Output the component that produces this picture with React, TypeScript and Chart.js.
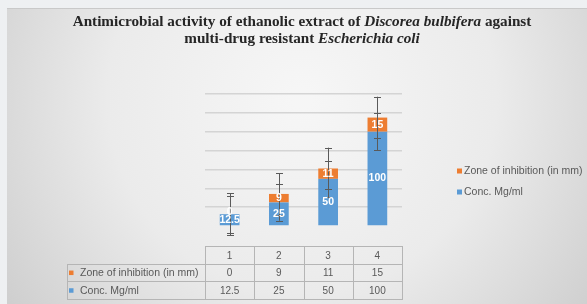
import React, { useEffect, useRef } from "react";
import { Chart, registerables } from "chart.js";

Chart.register(...registerables);

const categories = ["1", "2", "3", "4"];
const concValues = [12.5, 25, 50, 100];
const zoneValues = [0, 9, 11, 15];
const concErrors = [19.4, 19.4, 19.4, 19.4];
const zoneErrors = [22.1, 22.1, 22.1, 22.1];
const concLabel = "Conc. Mg/ml";
const zoneLabel = "Zone of inhibition (in mm)";
const yMax = 140;
const yStep = 20;
const titleLine1 = [
  { t: "Antimicrobial activity of ethanolic extract of ", i: false },
  { t: "Discorea bulbifera", i: true },
  { t: " against", i: false },
];
const titleLine2 = [
  { t: "multi-drug resistant ", i: false },
  { t: "Escherichia coli", i: true },
];

const BLUE = "#5b9bd5";
const ORANGE = "#ed7d31";
const TEXT = "#595959";
const SANS = "'Liberation Sans', Arial, sans-serif";

const overlay = {
  id: "overlay",
  beforeDraw(chart: any) {
    const { ctx, width, height } = chart;
    ctx.save();
    const g = ctx.createRadialGradient(295, 90, 10, 295, 90, 420);
    g.addColorStop(0, "#f6f6f6");
    g.addColorStop(0.45, "#ebebeb");
    g.addColorStop(1, "#c4c4c4");
    ctx.fillStyle = g;
    ctx.fillRect(0, 0, width, height);
    ctx.strokeStyle = "#c9c9c9";
    ctx.lineWidth = 1;
    ctx.beginPath();
    ctx.moveTo(0, 0.5);
    ctx.lineTo(width, 0.5);
    ctx.stroke();
    ctx.restore();
  },
  afterDatasetsDraw(chart: any) {
    const { ctx, chartArea } = chart;
    const yScale = chart.scales.y;
    const xScale = chart.scales.x;
    ctx.save();

    // error bars
    const errs = [concErrors, zoneErrors];
    const series = [concValues, zoneValues];
    ctx.strokeStyle = "#5a5a5a";
    ctx.lineWidth = 1;
    [0, 1].forEach((di) => {
      const meta = chart.getDatasetMeta(di);
      meta.data.forEach((el: any, j: number) => {
        let cum = 0;
        for (let k = 0; k <= di; k++) cum += series[k][j];
        const e = errs[di][j];
        const yTop = yScale.getPixelForValue(cum + e);
        const yBot = yScale.getPixelForValue(cum - e);
        const x = Math.round(el.x) + 0.5;
        ctx.beginPath();
        ctx.moveTo(x, yTop);
        ctx.lineTo(x, yBot);
        ctx.moveTo(x - 3.5, Math.round(yTop) + 0.5);
        ctx.lineTo(x + 3.5, Math.round(yTop) + 0.5);
        ctx.moveTo(x - 3.5, Math.round(yBot) + 0.5);
        ctx.lineTo(x + 3.5, Math.round(yBot) + 0.5);
        ctx.stroke();
      });
    });

    // data labels
    ctx.fillStyle = "#ffffff";
    ctx.font = `bold 10.5px ${SANS}`;
    ctx.textAlign = "center";
    ctx.textBaseline = "middle";
    [0, 1].forEach((di) => {
      const meta = chart.getDatasetMeta(di);
      meta.data.forEach((el: any, j: number) => {
        const yc = (el.y + el.base) / 2;
        ctx.fillText(String(series[di][j]), el.x, yc + (di === 1 && series[di][j] === 0 ? -2 : 0));
      });
    });

    // title
    ctx.fillStyle = "#262626";
    ctx.textBaseline = "alphabetic";
    ctx.textAlign = "left";
    const drawLine = (parts: any[], y: number) => {
      const fontFor = (i: boolean) => `${i ? "italic " : ""}bold 15.2px 'Liberation Serif', 'Times New Roman', serif`;
      let total = 0;
      parts.forEach((p) => {
        ctx.font = fontFor(p.i);
        total += ctx.measureText(p.t).width;
      });
      let x = 295 - total / 2;
      parts.forEach((p) => {
        ctx.font = fontFor(p.i);
        ctx.fillText(p.t, x, y);
        x += ctx.measureText(p.t).width;
      });
    };
    drawLine(titleLine1, 18);
    drawLine(titleLine2, 35);

    // legend
    ctx.font = `10.5px ${SANS}`;
    ctx.textBaseline = "middle";
    const legend = [
      { c: ORANGE, t: zoneLabel, y: 163 },
      { c: BLUE, t: concLabel, y: 184 },
    ];
    legend.forEach((l) => {
      ctx.fillStyle = l.c;
      ctx.fillRect(450, l.y - 2.5, 5, 5);
      ctx.fillStyle = TEXT;
      ctx.fillText(l.t, 457, l.y + 0.5);
    });

    // data table
    const catW = (xScale.right - xScale.left) / categories.length;
    const top = chartArea.bottom + 20;
    const rowH = 17.7;
    const labelLeft = 60;
    const left = xScale.left;
    const right = xScale.right;
    ctx.strokeStyle = "#b5b5b5";
    ctx.lineWidth = 1;
    ctx.beginPath();
    ctx.moveTo(left, top + 0.5);
    ctx.lineTo(right, top + 0.5);
    for (let r = 1; r <= 3; r++) {
      const y = Math.round(top + r * rowH) + 0.5;
      ctx.moveTo(labelLeft, y);
      ctx.lineTo(right, y);
    }
    ctx.moveTo(labelLeft + 0.5, Math.round(top + rowH));
    ctx.lineTo(labelLeft + 0.5, Math.round(top + 3 * rowH) + 1);
    for (let j = 0; j <= categories.length; j++) {
      const x = Math.round(left + j * catW) + 0.5;
      ctx.moveTo(x, top);
      ctx.lineTo(x, Math.round(top + 3 * rowH) + 1);
    }
    ctx.stroke();

    ctx.font = `10px ${SANS}`;
    ctx.fillStyle = TEXT;
    ctx.textAlign = "center";
    categories.forEach((c, j) => {
      const xc = xScale.getPixelForValue(j);
      ctx.fillText(c, xc, top + rowH / 2 + 1);
      ctx.fillText(String(zoneValues[j]), xc, top + rowH * 1.5 + 1);
      ctx.fillText(String(concValues[j]), xc, top + rowH * 2.5 + 1);
    });
    ctx.textAlign = "left";
    ctx.font = `10.5px ${SANS}`;
    const rows = [
      { c: ORANGE, t: zoneLabel },
      { c: BLUE, t: concLabel },
    ];
    rows.forEach((r, k) => {
      const yc = top + rowH * (1.5 + k);
      ctx.fillStyle = r.c;
      ctx.fillRect(62, yc - 2, 4.5, 4.5);
      ctx.fillStyle = TEXT;
      ctx.fillText(r.t, 73, yc + 1);
    });

    ctx.restore();
  },
};

export default function App() {
  const ref = useRef<HTMLCanvasElement>(null);
  useEffect(() => {
    if (!ref.current) return;
    const chart = new Chart(ref.current, {
      type: "bar",
      data: {
        labels: categories,
        datasets: [
          { label: concLabel, data: concValues, backgroundColor: BLUE, categoryPercentage: 1, barPercentage: 0.4 },
          { label: zoneLabel, data: zoneValues, backgroundColor: ORANGE, categoryPercentage: 1, barPercentage: 0.4 },
        ],
      },
      options: {
        animation: false,
        responsive: false,
        maintainAspectRatio: false,
        layout: { padding: { left: 198, right: 185, top: 86, bottom: 78 } },
        plugins: { legend: { display: false }, title: { display: false }, tooltip: { enabled: false } },
        scales: {
          x: { stacked: true, display: false },
          y: {
            stacked: true,
            min: 0,
            max: yMax,
            ticks: { stepSize: yStep, display: false },
            border: { display: false },
            grid: {
              drawTicks: false,
              lineWidth: 1.5,
              color: (c: any) => (c.tick && c.tick.value === 0 ? "rgba(0,0,0,0)" : "#d4d4d4"),
            },
          },
        },
      },
      plugins: [overlay],
    });
    return () => chart.destroy();
  }, []);
  return (
    <div style={{ position: "fixed", inset: 0, background: "#eef0f2" }}>
      <div style={{ position: "absolute", left: 7, top: 8, width: 580, height: 296 }}>
        <canvas ref={ref} width={580} height={296} style={{ display: "block" }} />
      </div>
    </div>
  );
}
